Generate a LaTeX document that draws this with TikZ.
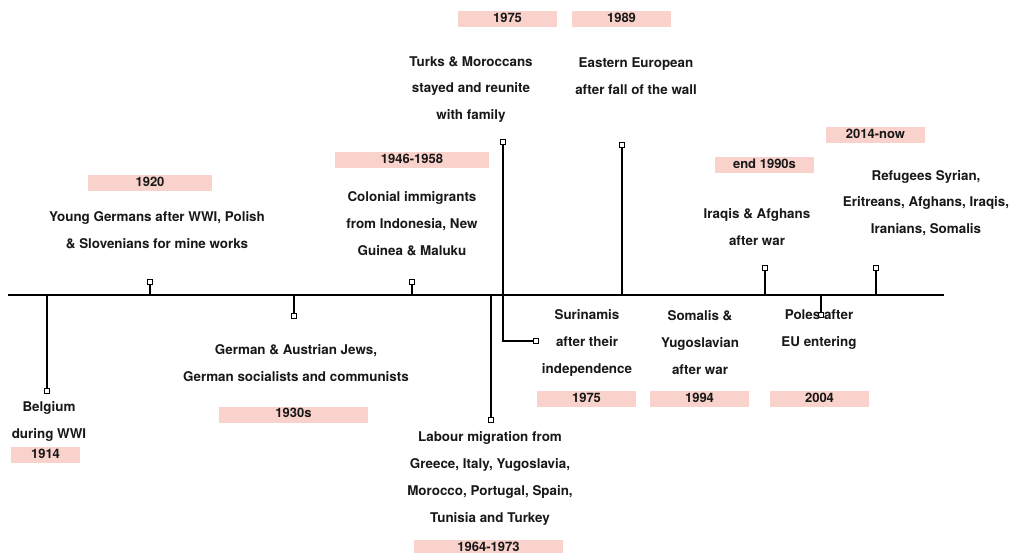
\documentclass[tikz,border=0pt]{standalone}
\usepackage{fontspec}
\setmainfont{TeX Gyre Heros}
\definecolor{yearpink}{RGB}{250,210,204}
\definecolor{ink}{RGB}{24,24,24}
\begin{document}
\begin{tikzpicture}[x=1pt,y=-1pt,
  axisline/.style={line width=1.5pt, black},
  ticker/.style={line width=1.5pt, black},
  marker/.style={rectangle, draw=black, fill=white, line width=0.8pt,
    minimum size=4.5pt, inner sep=0pt},
  caption/.style={align=center, inner sep=0pt, text=ink, yshift=-2pt,
    font=\fontsize{13.4}{26.8}\selectfont\bfseries},
  yearbox/.style={rectangle, fill=yearpink, inner sep=0pt, text=ink,
    minimum height=16pt, text height=9.5pt, text depth=3pt,
    font=\fontsize{13}{15}\selectfont\bfseries},
]
\useasboundingbox (0,0) rectangle (1011,553);

% time axis
\coordinate (axL) at (8,295);
\coordinate (axR) at (944,295);
\draw[axisline] (axL) -- (axR);

% points on the axis
\coordinate (a1914) at (47,295);
\coordinate (a1920) at (150,295);
\coordinate (a1930) at (294,295);
\coordinate (a1946) at (412,295);
\coordinate (a1964) at (491,295);
\coordinate (a1975) at (503,295);
\coordinate (a1989) at (622,295);
\coordinate (a1990) at (765,295);
\coordinate (a2004) at (821,295);
\coordinate (a2014) at (876,295);

% end markers
\node[marker] (m1914) at (47,391) {};
\node[marker] (m1920) at (150,282) {};
\node[marker] (m1930) at (294,316) {};
\node[marker] (m1946) at (412,282) {};
\node[marker] (m1964) at (491,420) {};
\node[marker] (m1975t) at (503,142) {};
\node[marker] (m1975s) at (536,341) {};
\node[marker] (m1989) at (622,145) {};
\node[marker] (m1990) at (765,268) {};
\node[marker] (m2004) at (821,315) {};
\node[marker] (m2014) at (876,268) {};

% ticks
\draw[ticker] (a1914) -- (m1914);
\draw[ticker] (a1920) -- (m1920);
\draw[ticker] (a1930) -- (m1930);
\draw[ticker] (a1946) -- (m1946);
\draw[ticker] (a1964) -- (m1964);
\draw[ticker] (a1975) -- (m1975t);
\draw[ticker] (a1975) |- (m1975s);
\draw[ticker] (a1989) -- (m1989);
\draw[ticker] (a1990) -- (m1990);
\draw[ticker] (a2004) -- (m2004);
\draw[ticker] (a2014) -- (m2014);

% redraw markers on top of the ticks
\foreach \m in {m1914,m1920,m1930,m1946,m1964,m1975t,m1975s,m1989,m1990,m2004,m2014}
  \path[marker] (\m.south west) rectangle (\m.north east);

% year labels
\node[yearbox, minimum width=69pt]  (y1914)  at (45.5,455) {1914};
\node[yearbox, minimum width=124pt] (y1920)  at (150,183) {1920};
\node[yearbox, minimum width=149pt] (y1930)  at (293.5,414.5) {1930s};
\node[yearbox, minimum width=154pt] (y1946)  at (412,160) {1946-1958};
\node[yearbox, minimum width=99pt]  (y1975t) at (507.5,19.5) {1975};
\node[yearbox, minimum width=99pt]  (y1989)  at (621.5,19.5) {1989};
\node[yearbox, minimum width=149pt] (y1964)  at (488.5,548) {1964-1973};
\node[yearbox, minimum width=99pt]  (y1975s) at (586.5,399) {1975};
\node[yearbox, minimum width=99pt]  (y1994)  at (699.5,399) {1994};
\node[yearbox, minimum width=99pt]  (y1990)  at (764.5,165) {end 1990s};
\node[yearbox, minimum width=99pt]  (y2004)  at (819.5,399) {2004};
\node[yearbox, minimum width=99pt]  (y2014)  at (875.5,135) {2014-now};

% descriptions
\node[caption] (c1914) at (49,419.5) {Belgium\\during WWI};
\node[caption] (c1920) at (157,228) {Young Germans after WWI, Polish\\\& Slovenians for mine works};
\node[caption] (c1930) at (296,361) {German \& Austrian Jews,\\German socialists and communists};
\node[caption] (c1946) at (412,221.5) {Colonial immigrants\\from Indonesia, New\\Guinea \& Maluku};
\node[caption] (c1975t) at (471,87.5) {Turks \& Moroccans\\stayed and reunite\\with family};
\node[caption] (c1964) at (490,476.5) {Labour migration from\\Greece, Italy, Yugoslavia,\\Morocco, Portugal, Spain,\\Tunisia and Turkey};
\node[caption] (c1989) at (636,74) {Eastern European\\after fall of the wall};
\node[caption] (c1975s) at (587,341) {Surinamis\\after their\\independence};
\node[caption] (c1994) at (700,340.5) {Somalis \&\\Yugoslavian\\after war};
\node[caption] (c1990) at (757,225) {Iraqis \& Afghans\\after war};
\node[caption] (c2004) at (819,327.5) {Poles after\\EU entering};
\node[caption] (c2014) at (926,201) {Refugees Syrian,\\Eritreans, Afghans, Iraqis,\\Iranians, Somalis};
\end{tikzpicture}
\end{document}
